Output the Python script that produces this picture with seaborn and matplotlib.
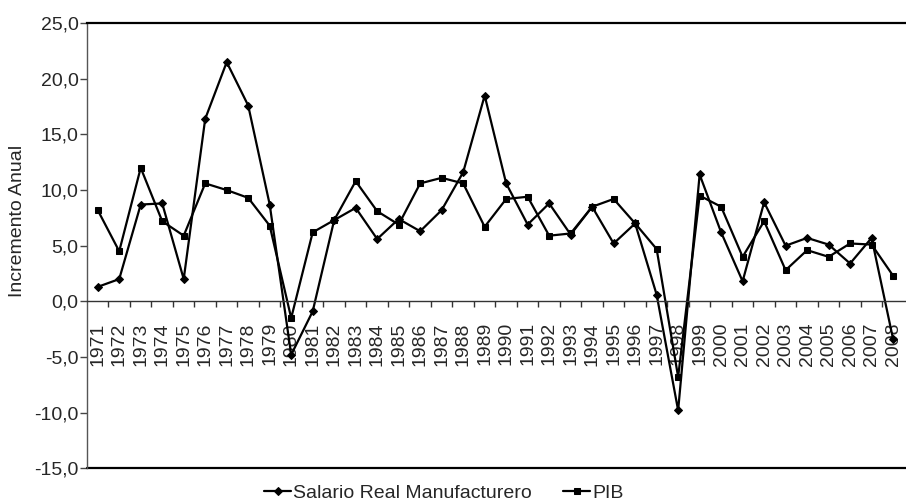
import matplotlib
matplotlib.use('Agg')
import matplotlib.pyplot as plt
import seaborn as sns
import pandas as pd
from matplotlib.ticker import FuncFormatter, FixedLocator

years = list(range(1971, 2009))

salario = [1.3, 2.0, 8.7, 8.8, 2.0, 16.4, 21.5, 17.6, 8.7, -4.8,
           -0.9, 7.3, 8.4, 5.6, 7.4, 6.3, 8.2, 11.6, 18.5, 10.6,
           6.9, 8.8, 6.0, 8.5, 5.2, 7.0, 0.6, -9.8, 11.4, 6.2,
           1.8, 8.9, 5.0, 5.7, 5.1, 3.4, 5.7, -3.4]

pib = [8.2, 4.5, 12.0, 7.2, 5.9, 10.6, 10.0, 9.3, 6.8, -1.5,
       6.2, 7.3, 10.8, 8.1, 6.9, 10.6, 11.1, 10.6, 6.7, 9.2,
       9.4, 5.9, 6.1, 8.5, 9.2, 7.0, 4.7, -6.8, 9.5, 8.5,
       4.0, 7.2, 2.8, 4.6, 4.0, 5.2, 5.1, 2.3]

yticks = [-15, -10, -5, 0, 5, 10, 15, 20, 25]

df = pd.DataFrame({'year': years, 'salario': salario, 'pib': pib})

sns.set_style('white')
plt.rcParams['font.family'] = ['Liberation Sans', 'DejaVu Sans']

fig = plt.figure(figsize=(9.06, 5.04), dpi=100)
ax = fig.add_axes([0.096, 0.071, 0.904, 0.883])

sns.lineplot(data=df, x='year', y='salario', ax=ax, color='black', lw=1.6,
             marker='D', markersize=5.5, markeredgecolor='black',
             label='Salario Real Manufacturero')
sns.lineplot(data=df, x='year', y='pib', ax=ax, color='black', lw=1.6,
             marker='s', markersize=6, markeredgecolor='black', label='PIB')

ax.set_xlim(1970.5, 2008.6)
ax.set_ylim(-15, 25)

# y axis
ax.set_yticks(yticks)
ax.yaxis.set_major_formatter(FuncFormatter(lambda v, p: f'{v:.1f}'.replace('.', ',')))
ax.tick_params(axis='y', which='major', left=True, length=5, width=1,
               direction='out', labelsize=14, pad=1, color='#444444')
ax.set_ylabel('Incremento Anual', fontsize=14)
ax.yaxis.set_label_coords(-0.0745, 0.555)

# category axis crossing at zero
ax.spines['bottom'].set_position(('data', 0))
ax.spines['bottom'].set_linewidth(1.0)
ax.spines['bottom'].set_color('#333333')
ax.set_xticks(years)
ax.set_xticklabels([str(y) for y in years], rotation=90, fontsize=14)
ax.xaxis.set_minor_locator(FixedLocator([y + 0.5 for y in years[:-1]]))
ax.tick_params(axis='x', which='major', bottom=True, length=0, pad=15)
ax.tick_params(axis='x', which='minor', bottom=True, length=4, width=1,
               direction='out', color='#333333')
ax.set_xlabel('')

ax.spines['left'].set_color('#555555')
ax.spines['left'].set_linewidth(1.0)
ax.spines['right'].set_visible(False)
ax.spines['top'].set_linewidth(1.6)
ax.spines['top'].set_color('black')
ax.axhline(-15, color='black', lw=1.6, clip_on=False)

ax.get_legend().remove()
handles, labels = ax.get_legend_handles_labels()
for h in handles:
    h.set_markersize(4.5)
fig.legend(handles, labels, loc='center', bbox_to_anchor=(0.49, 0.022),
           ncol=2, frameon=False, fontsize=14, handlelength=1.4,
           handletextpad=0.1, columnspacing=1.6, borderpad=0)

fig.savefig('out.png', dpi=100)
